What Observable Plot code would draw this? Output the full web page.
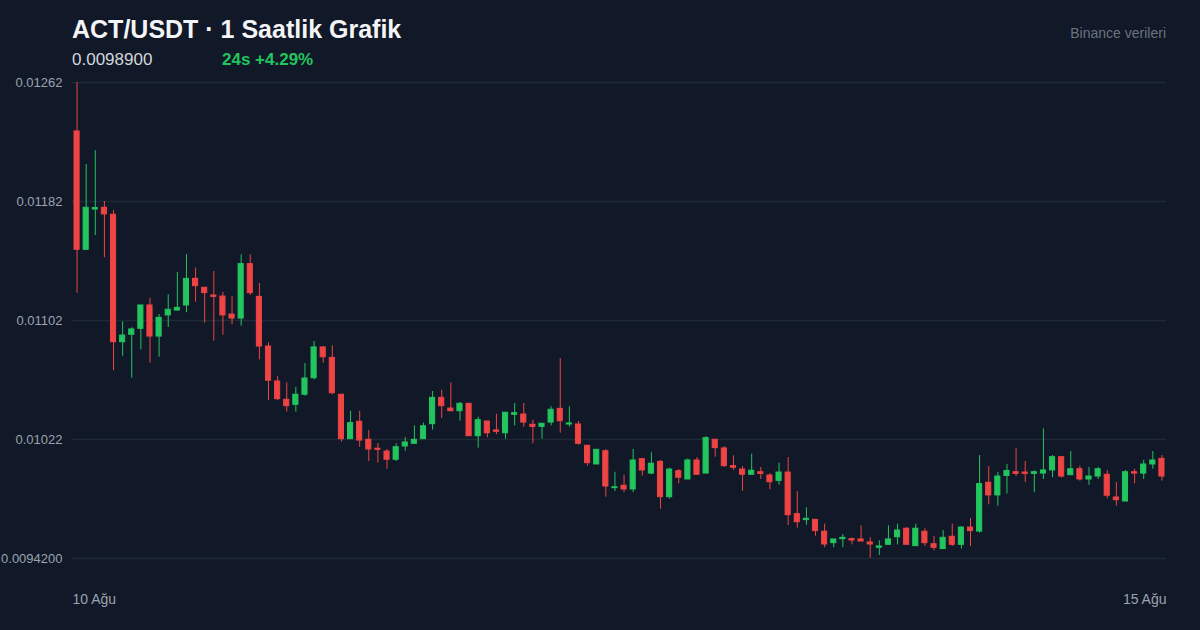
<!DOCTYPE html>
<html>
<head>
<meta charset="utf-8">
<script src="https://cdn.jsdelivr.net/npm/d3@7"></script>
<script src="https://cdn.jsdelivr.net/npm/@observablehq/plot@0.6"></script>
<style>
  html, body { margin: 0; padding: 0; background: #111827; }
  body { width: 1200px; height: 630px; position: relative; overflow: hidden; font-family: "Liberation Sans", Arial, sans-serif; }
  .abs { position: absolute; white-space: nowrap; }
  #title { left: 72px; top: 17px; font-size: 25px; line-height: 24px; font-weight: bold; color: #f3f4f6; }
  #price { left: 72px; top: 52px; font-size: 17px; line-height: 16px; color: #d1d5db; }
  #change { left: 222px; top: 52px; font-size: 17px; line-height: 16px; font-weight: bold; color: #22c55e; }
  #source { right: 34px; top: 26px; font-size: 14px; line-height: 14px; color: #6b7280; }
  #chart { position: absolute; left: 0; top: 0; }
</style>
</head>
<body>
<div id="chart"></div>
<div class="abs" id="title">ACT/USDT · 1 Saatlik Grafik</div>
<div class="abs" id="price">0.0098900</div>
<div class="abs" id="change">24s +4.29%</div>
<div class="abs" id="source">Binance verileri</div>
<script>
const opens = [0.012291,0.011495,0.011766,0.011778,0.011731,0.010874,0.010924,0.010964,0.011121,0.010912,
0.011054,0.011087,0.011121,0.011300,0.011240,0.011188,0.011181,0.011060,0.011033,0.011399,
0.011179,0.010845,0.010610,0.010487,0.010453,0.010521,0.010632,0.010839,0.010769,0.010521,
0.010222,0.010339,0.010218,0.010158,0.010139,0.010084,0.010173,0.010191,0.010222,0.010323,
0.010500,0.010428,0.010410,0.010460,0.010242,0.010341,0.010281,0.010262,0.010386,0.010388,
0.010319,0.010305,0.010334,0.010426,0.010321,0.010321,0.010178,0.010052,0.010141,0.009893,
0.009909,0.009884,0.010088,0.009991,0.010070,0.009832,0.010007,0.009951,0.010079,0.009991,
0.010218,0.010160,0.010041,0.010018,0.009983,0.010000,0.009978,0.009942,0.009998,0.009718,
0.009678,0.009680,0.009600,0.009523,0.009550,0.009550,0.009548,0.009528,0.009492,0.009512,
0.009563,0.009620,0.009503,0.009600,0.009516,0.009483,0.009566,0.009512,0.009628,0.009601,
0.009929,0.009844,0.009975,0.010000,0.009998,0.009989,0.009991,0.010012,0.010101,0.009980,
0.010020,0.009951,0.009971,0.009983,0.009830,0.009803,0.010000,0.009991,0.010052,0.010090];

const highs = [0.012620,0.012069,0.012161,0.011820,0.011760,0.011011,0.010971,0.011121,0.011170,0.011060,
0.011193,0.011343,0.011462,0.011372,0.011240,0.011349,0.011208,0.011181,0.011462,0.011462,
0.011269,0.010870,0.010642,0.010601,0.010570,0.010731,0.010879,0.010843,0.010850,0.010521,
0.010410,0.010410,0.010281,0.010193,0.010153,0.010191,0.010233,0.010312,0.010330,0.010543,
0.010551,0.010601,0.010469,0.010460,0.010370,0.010341,0.010390,0.010400,0.010462,0.010462,
0.010350,0.010326,0.010440,0.010763,0.010440,0.010341,0.010178,0.010151,0.010153,0.010000,
0.009980,0.010153,0.010088,0.010131,0.010079,0.010027,0.010018,0.010090,0.010099,0.010240,
0.010218,0.010171,0.010110,0.010038,0.010121,0.010032,0.009991,0.010061,0.010099,0.009870,
0.009761,0.009680,0.009651,0.009548,0.009581,0.009559,0.009640,0.009559,0.009539,0.009640,
0.009651,0.009628,0.009651,0.009620,0.009568,0.009608,0.009651,0.009633,0.009689,0.010112,
0.010038,0.009998,0.010052,0.010160,0.010072,0.010010,0.010292,0.010112,0.010101,0.010139,
0.010041,0.010032,0.010032,0.010012,0.009931,0.010012,0.010020,0.010081,0.010139,0.010112];

const lows = [0.011204,0.011495,0.011591,0.011442,0.010682,0.010780,0.010632,0.010823,0.010733,0.010773,
0.010973,0.011083,0.011072,0.011143,0.011002,0.010881,0.010921,0.010991,0.010982,0.011188,
0.010756,0.010482,0.010482,0.010404,0.010404,0.010511,0.010621,0.010733,0.010521,0.010202,
0.010222,0.010168,0.010072,0.010061,0.010020,0.010072,0.010141,0.010191,0.010222,0.010283,
0.010361,0.010410,0.010343,0.010242,0.010162,0.010231,0.010252,0.010222,0.010312,0.010303,
0.010191,0.010222,0.010312,0.010262,0.010303,0.010182,0.010041,0.010052,0.009832,0.009870,
0.009862,0.009862,0.009973,0.009983,0.009751,0.009819,0.009922,0.009951,0.009983,0.009991,
0.010101,0.010032,0.010012,0.009872,0.009983,0.009951,0.009882,0.009913,0.009642,0.009624,
0.009644,0.009570,0.009492,0.009492,0.009492,0.009512,0.009534,0.009420,0.009440,0.009512,
0.009512,0.009512,0.009503,0.009501,0.009472,0.009483,0.009501,0.009483,0.009501,0.009590,
0.009781,0.009772,0.009854,0.009971,0.009931,0.009862,0.009951,0.009963,0.009960,0.009980,
0.009940,0.009911,0.009951,0.009821,0.009772,0.009803,0.009922,0.009951,0.010020,0.009940];

const closes = [0.011495,0.011778,0.011776,0.011733,0.010874,0.010919,0.010960,0.011121,0.010912,0.011038,
0.011092,0.011105,0.011300,0.011251,0.011204,0.011179,0.011054,0.011033,0.011399,0.011204,
0.010845,0.010615,0.010491,0.010444,0.010521,0.010630,0.010839,0.010773,0.010531,0.010222,
0.010330,0.010213,0.010153,0.010151,0.010084,0.010168,0.010200,0.010218,0.010309,0.010500,
0.010444,0.010410,0.010460,0.010242,0.010350,0.010262,0.010272,0.010400,0.010397,0.010334,
0.010305,0.010326,0.010420,0.010343,0.010328,0.010191,0.010061,0.010151,0.009904,0.009899,
0.009884,0.010079,0.010012,0.010057,0.009832,0.010018,0.009963,0.010079,0.009983,0.010229,
0.010162,0.010041,0.010030,0.009983,0.010010,0.009989,0.009933,0.009998,0.009711,0.009664,
0.009687,0.009604,0.009514,0.009548,0.009559,0.009541,0.009534,0.009514,0.009501,0.009548,
0.009608,0.009512,0.009620,0.009523,0.009492,0.009559,0.009512,0.009628,0.009604,0.009920,
0.009844,0.009971,0.010008,0.009989,0.009989,0.010000,0.010012,0.010101,0.009971,0.010020,
0.009951,0.009971,0.010020,0.009842,0.009812,0.010000,0.009991,0.010052,0.010079,0.009971];

const yTicks = [0.00942, 0.01022, 0.01102, 0.01182, 0.01262];
const yTickLabels = ["0.0094200", "0.01022", "0.01102", "0.01182", "0.01262"];
const xLabels = ["10 Ağu", "15 Ağu"];

const UP = "#22c55e", DOWN = "#ef4444";
const candles = opens.map((o, i) => ({
  i, open: o, high: highs[i], low: lows[i], close: closes[i],
  color: closes[i] >= o ? UP : DOWN
}));

const chart = Plot.plot({
  width: 1200,
  height: 630,
  marginLeft: 72,
  marginRight: 34,
  marginTop: 82,
  marginBottom: 72,
  style: { background: "transparent", fontFamily: "'Liberation Sans', Arial, sans-serif" },
  x: { type: "band", domain: d3.range(candles.length), padding: 0, round: false, axis: null },
  y: { domain: [yTicks[0], yTicks[yTicks.length - 1]], axis: null },
  marks: [
    Plot.gridY(yTicks, { stroke: "#1f2937", strokeOpacity: 1, strokeWidth: 1.5 }),
    Plot.axisY(yTicks, {
      tickSize: 0, tickPadding: 10, fontSize: 13, fill: "#9ca3af",
      tickFormat: d => yTickLabels[yTicks.indexOf(d)]
    }),
    Plot.ruleX(candles, { x: "i", y1: "low", y2: "high", stroke: "color", strokeWidth: 1 }),
    Plot.barY(candles, { x: "i", y1: "open", y2: "close", fill: "color", stroke: "color", strokeWidth: 1, insetLeft: 2, insetRight: 2 }),
    Plot.text([xLabels[0]], { frameAnchor: "bottom-left", textAnchor: "start", lineAnchor: "middle", dy: 41.5, fontSize: 14, fill: "#9ca3af" }),
    Plot.text([xLabels[1]], { frameAnchor: "bottom-right", textAnchor: "end", lineAnchor: "middle", dy: 41.5, fontSize: 14, fill: "#9ca3af" })
  ]
});
document.getElementById("chart").appendChild(chart);
</script>
</body>
</html>
